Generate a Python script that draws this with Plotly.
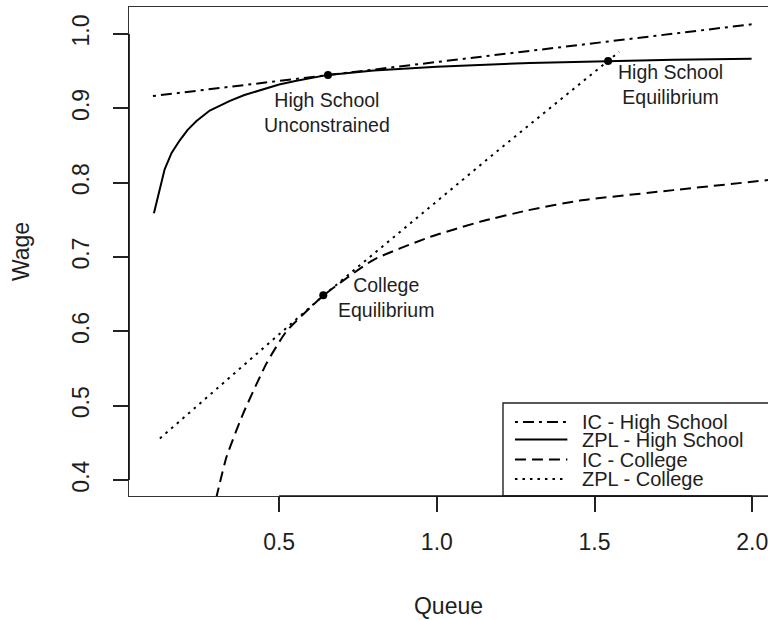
import plotly.graph_objects as go

# ---- data ----
series_names = ["IC - High School", "ZPL - High School", "IC - College", "ZPL - College"]

q_ic_hs = [0.100, 0.655, 1.295, 1.998]
w_ic_hs = [0.9166, 0.945, 0.977, 1.013]

q_zpl_hs = [0.103, 0.121, 0.137, 0.159, 0.185, 0.210, 0.238, 0.280, 0.344, 0.390,
            0.449, 0.500, 0.555, 0.655, 0.800, 1.000, 1.295, 1.543, 1.750, 1.998]
w_zpl_hs = [0.759, 0.791, 0.818, 0.840, 0.857, 0.871, 0.883, 0.897, 0.910, 0.918,
            0.926, 0.932, 0.937, 0.945, 0.951, 0.956, 0.961, 0.9637, 0.9655, 0.9668]

q_ic_col = [0.300, 0.333, 0.386, 0.460, 0.523, 0.640, 0.798, 0.978, 1.137, 1.290,
            1.454, 1.750, 2.050]
w_ic_col = [0.375, 0.431, 0.4895, 0.557, 0.600, 0.648, 0.696, 0.727, 0.7474, 0.763,
            0.776, 0.790, 0.8035]

q_zpl_col = [0.122, 0.640, 1.190, 1.543, 1.578]
w_zpl_col = [0.456, 0.648, 0.842, 0.964, 0.976]

eq_q = [0.655, 1.543, 0.640]
eq_w = [0.945, 0.9637, 0.6487]
eq_labels = ["High School<br>Unconstrained", "High School<br>Equilibrium", "College<br>Equilibrium"]

x_tick_vals = [0.5, 1.0, 1.5, 2.0]
x_tick_text = ["0.5", "1.0", "1.5", "2.0"]
y_tick_vals = [0.4, 0.5, 0.6, 0.7, 0.8, 0.9, 1.0]
y_tick_text = ["0.4", "0.5", "0.6", "0.7", "0.8", "0.9", "1.0"]

# ---- styles ----
FONT = "Liberation Sans, Arial, Helvetica, sans-serif"
INK = "#1e1e1e"
LW = 2.0
dashes = ["3px,5px,11px,5px", "solid", "11px,6px", "2.5px,5px"]
shapes_kind = ["linear", "linear", "spline", "linear"]

series = [(q_ic_hs, w_ic_hs), (q_zpl_hs, w_zpl_hs), (q_ic_col, w_ic_col), (q_zpl_col, w_zpl_col)]

fig = go.Figure()
for (qs, ws), name, dash, shp in zip(series, series_names, dashes, shapes_kind):
    line = dict(color="black", width=LW, dash=dash, shape=shp)
    if shp == "spline":
        line["smoothing"] = 0.5
    fig.add_trace(go.Scatter(x=qs, y=ws, mode="lines", name=name, line=line,
                             showlegend=False, hoverinfo="skip"))

fig.add_trace(go.Scatter(
    x=eq_q, y=eq_w, mode="markers", marker=dict(color="black", size=8),
    showlegend=False, hoverinfo="skip"))

# point labels (offset in pixels from their points)
label_shifts = [(-1, -38), (62, -24), (63, -2)]
for qv, wv, txt, (dx, dy) in zip(eq_q, eq_w, eq_labels, label_shifts):
    fig.add_annotation(x=qv, y=wv, text=txt, showarrow=False,
                       xshift=dx, yshift=dy, align="center",
                       font=dict(family=FONT, size=19.5, color=INK))

# ---- manual R-style legend (bottom right, clipped at the right edge) ----
shapes = []
leg_left, leg_top = 0.5853, 0.1903
shapes.append(dict(type="rect", xref="paper", yref="paper", x0=leg_left, x1=1.05,
                   y0=0, y1=leg_top, line=dict(color="#222", width=1.4),
                   fillcolor="white", layer="above"))
row_y = [0.1514, 0.1154, 0.0745, 0.0348]
for yy, name, dash in zip(row_y, series_names, dashes):
    shapes.append(dict(type="line", xref="paper", yref="paper", x0=0.604, x1=0.686,
                       y0=yy, y1=yy, line=dict(color="black", width=LW, dash=dash),
                       layer="above"))
    fig.add_annotation(xref="paper", yref="paper", x=0.7058, y=yy, text=name,
                       xanchor="left", yanchor="middle", showarrow=False,
                       font=dict(family=FONT, size=20, color=INK))

# darker axis segments (R draws axis lines from first to last tick over the box)
shapes.append(dict(type="line", xref="x", yref="paper", x0=0.5, x1=2.0, y0=0, y1=0,
                   line=dict(color="#111", width=1.7)))
shapes.append(dict(type="line", xref="paper", yref="y", x0=0, x1=0, y0=0.4, y1=1.0,
                   line=dict(color="#111", width=1.7)))

fig.update_layout(
    width=768, height=620,
    margin=dict(l=129, r=0, t=7, b=124, autoexpand=False),
    paper_bgcolor="white", plot_bgcolor="white",
    font=dict(family=FONT, color=INK),
    shapes=shapes,
    showlegend=False,
    xaxis=dict(range=[0.024, 2.050], tickvals=x_tick_vals, ticktext=x_tick_text,
               showgrid=False, zeroline=False, showline=True, mirror=True,
               linecolor="#333", linewidth=1.4, ticklabeloverflow="allow",
               ticks="outside", ticklen=15, tickwidth=1.6, tickcolor="#222",
               tickfont=dict(family=FONT, size=23, color=INK), ticklabelstandoff=10,
               title=dict(text="Queue", font=dict(family=FONT, size=23, color=INK), standoff=44)),
    yaxis=dict(range=[0.3786, 1.0363], tickvals=y_tick_vals, ticktext=y_tick_text,
               showgrid=False, zeroline=False, showline=True, mirror=False,
               linecolor="#333", linewidth=1.4, ticklabeloverflow="allow",
               ticks="outside", ticklen=15, tickwidth=1.6, tickcolor="#222", tickangle=-90,
               tickfont=dict(family=FONT, size=23, color=INK), ticklabelstandoff=15,
               title=dict(text="Wage", font=dict(family=FONT, size=23, color=INK), standoff=31)),
)

# remove the default 8px page margin so the figure sits at the window's corner
fig.write_html("out.html", config={"displayModeBar": False},
               post_script="document.body.style.margin='0px';")
